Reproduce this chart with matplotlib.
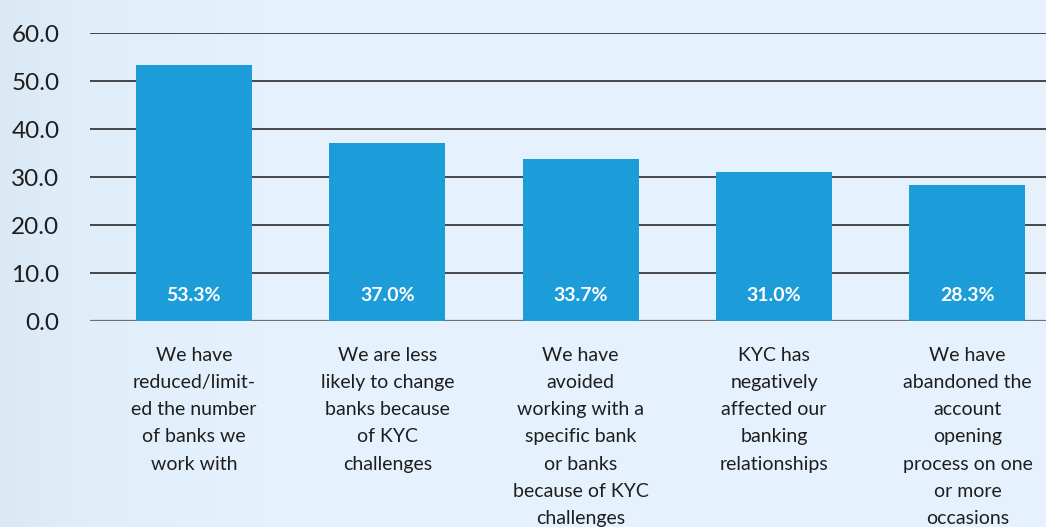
import matplotlib
matplotlib.use("Agg")
import matplotlib.pyplot as plt
from matplotlib.colors import LinearSegmentedColormap
import numpy as np

categories = [
    "We have\nreduced/limit-\ned the number\nof banks we\nwork with",
    "We are less\nlikely to change\nbanks because\nof KYC\nchallenges",
    "We have\navoided\nworking with a\nspecific bank\nor banks\nbecause of KYC\nchallenges",
    "KYC has\nnegatively\naffected our\nbanking\nrelationships",
    "We have\nabandoned the\naccount\nopening\nprocess on one\nor more\noccasions",
]
values = [53.3, 37.0, 33.7, 31.0, 28.3]
yticks = [0, 10, 20, 30, 40, 50, 60]

bg = "#e4f1fc"
bar_color = "#1c9dd9"
text_color = "#1e1e1e"

plt.rcParams["font.family"] = ["Lato", "DejaVu Sans"]

fig = plt.figure(figsize=(10.46, 5.27), dpi=100)
fig.patch.set_facecolor(bg)

# slightly darker strip on the left side of the background
grad = fig.add_axes([0, 0, 1, 1], zorder=-10)
g = np.linspace(0, 1, 256)[None, :]
cmap = LinearSegmentedColormap.from_list("bg", [(0, "#dbe9f5"), (0.08, "#e0eef9"), (0.25, "#e5f2fd"), (1, "#e5f2fd")])
grad.imshow(g, aspect="auto", cmap=cmap, extent=[0, 1, 0, 1])
grad.axis("off")

ax = fig.add_axes([90 / 1046, 1 - 321 / 527, 1 - 90 / 1046, (321 - 33) / 527])
ax.set_facecolor("none")

x = np.arange(len(values))
ax.bar(x, values, width=0.6, color=bar_color, zorder=3)

for xi, v in zip(x, values):
    ax.text(xi, 5.4, f"{v:.1f}%", ha="center", va="center", color="white",
            fontsize=14, fontweight="bold", zorder=4)

ax.set_ylim(0, 60)
ax.set_xlim(-0.537, 4.406)
ax.set_yticks(yticks)
ax.set_yticklabels([f"{t:.1f}" for t in yticks], fontsize=17.5, color=text_color)
for t in yticks:
    ax.axhline(t, color="#2a2a2a" if t else "#707070", lw=1.2 if t else 1.6, zorder=1)

ax.set_xticks(x)
ax.set_xticklabels(categories, fontsize=14, color=text_color, linespacing=1.73, va="top")
ax.tick_params(axis="x", length=0, pad=18.5)
ax.tick_params(axis="y", length=0, pad=22)

for s in ax.spines.values():
    s.set_visible(False)

fig.savefig("out.png", dpi=100, facecolor=fig.get_facecolor())
